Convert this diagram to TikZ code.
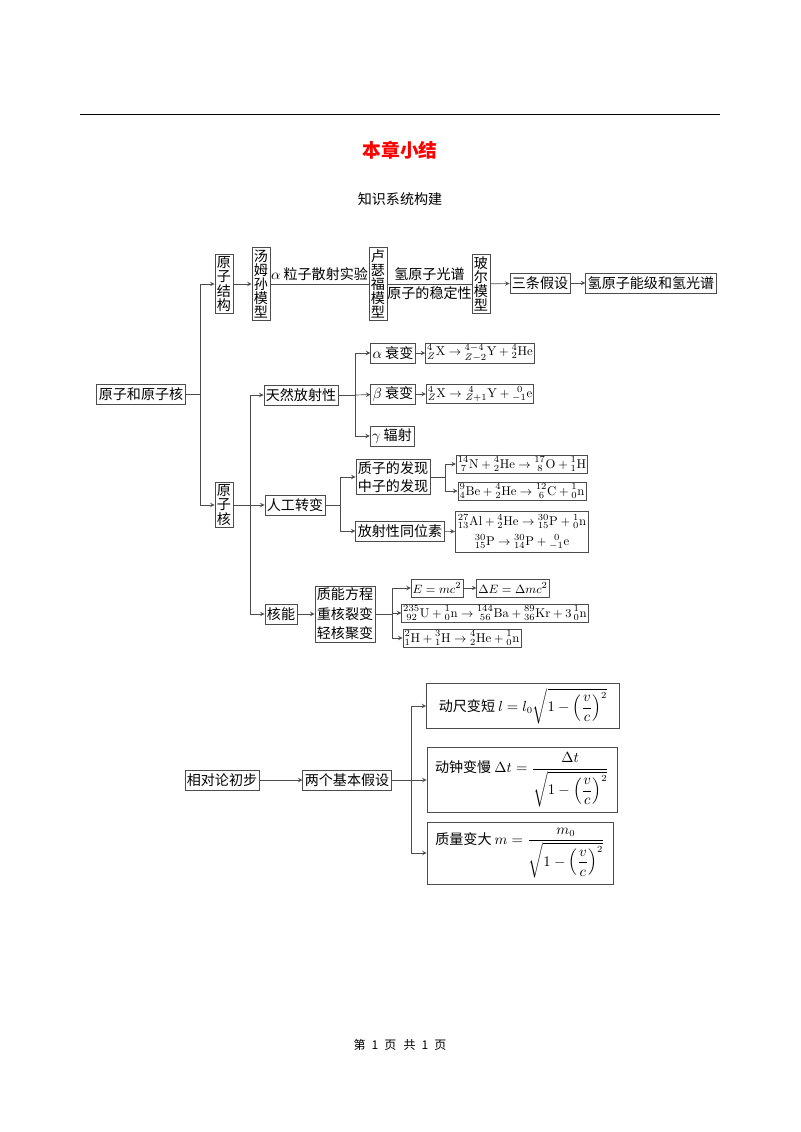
\documentclass[tikz,border=0pt]{standalone}
\usepackage{amsmath}
\usepackage{fontspec}
\usepackage{tikz}
\usetikzlibrary{arrows, positioning, calc}
\newfontfamily\zh{Noto Sans CJK SC}
\tikzstyle{box} = [rectangle, draw=black!70, inner sep=1.5pt, minimum height=5.2mm, text centered, font=\zh\fontsize{10.5}{11}\selectfont]
\tikzstyle{vbox} = [box, align=center, font=\zh\fontsize{10.5}{10.6}\selectfont]
\tikzstyle{mbox} = [box, align=center, font=\zh\fontsize{10.5}{14.5}\selectfont]
\tikzstyle{fbox} = [box, inner sep=1.2pt, minimum height=4.8mm, font=\zh\fontsize{9.5}{11}\selectfont]
\tikzstyle{rbox} = [box, inner sep=3pt, font=\zh\fontsize{10.5}{12}\selectfont]
\tikzstyle{lbl} = [font=\zh\fontsize{10.5}{12}\selectfont, inner sep=2pt]
\tikzstyle{arrow} = [->,>=stealth, draw=black!70]
\tikzstyle{line} = [draw=black!70]

\begin{document}
\begin{tikzpicture}[x=0.2625mm, y=-0.2625mm, line width=0.5pt]
\useasboundingbox (0,0) rectangle (800,1132);

% page head
\draw[line width=0.7pt] (80,114) -- (720,114);
\node (title) at (400,150) [font=\zh\bfseries\fontsize{14}{16}\selectfont, text=red] {本章小结};
\node (sub) at (400,199) [lbl] {知识系统构建};

% atom
\node (yzhyzh) [box] at (141,394) {原子和原子核};
\node (yzjg) [vbox] at (224,284) {原\\子\\结\\构};
\node (tms) [vbox] at (261,284) {汤\\姆\\孙\\模\\型};
\node (lsf) [vbox] at (378,284) {卢\\瑟\\福\\模\\型};
\node (be) [vbox] at (481,284) {玻\\尔\\模\\型};
\node (sjs) [box] at (540,283) {三条假设};
\node (qnj) [box] at (651,283) {氢原子能级和氢光谱};

\coordinate (t1) at (200,394);
\draw [line] (yzhyzh) -- (t1);
\draw [arrow] (t1) |- (yzjg);
\draw [arrow] (yzjg) -- (tms);
\draw [line] (tms) -- node[lbl, above] {$\alpha$ 粒子散射实验} (lsf);
\draw [line] (lsf) -- node[lbl, above] {氢原子光谱} node[lbl, below] {原子的稳定性} (be);
\draw [arrow] (be) -- (sjs);
\draw [arrow] (sjs) -- (qnj);

% nucleus
\node (yzh) [vbox] at (224,505) {原\\子\\核};
\draw [arrow] (t1) |- (yzh);

\node (trfs) [box] at (301,395) {天然放射性};
\node (alpha) [box] at (393,353) {$\alpha$ 衰变};
\node (afm) [fbox] at (480,353) {${}^{4}_{Z}\mathrm{X} \to {}^{4-4}_{Z-2}\mathrm{Y} + {}^{4}_{2}\mathrm{He}$};
\node (beta) [box] at (393,394) {$\beta$ 衰变};
\node (bfm) [fbox] at (480,394) {${}^{4}_{Z}\mathrm{X} \to {}^{\;4}_{Z+1}\mathrm{Y} + {}^{\;\,0}_{-1}\mathrm{e}$};
\node (gamma) [box] at (392,436) {$\gamma$ 辐射};

\node (rgzb) [box] at (295,505) {人工转变};
\node (fx) [box, align=center, font=\zh\fontsize{10.5}{13}\selectfont] at (393,477) {质子的发现\\中子的发现};
\node (nfm) [fbox, minimum width=32.8mm] at (522,464) {${}^{14}_{\;7}\mathrm{N} + {}^{4}_{2}\mathrm{He} \to {}^{17}_{\;8}\mathrm{O} + {}^{1}_{1}\mathrm{H}$};
\node (befm) [fbox, minimum width=32.8mm] at (522,491) {${}^{9}_{4}\mathrm{Be} + {}^{4}_{2}\mathrm{He} \to {}^{12}_{\;6}\mathrm{C} + {}^{1}_{0}\mathrm{n}$};
\node (fsx) [box] at (400,531) {放射性同位素};
\node (alfm) [fbox, align=center, minimum width=32.8mm, inner sep=2pt, font=\zh\fontsize{9.5}{15}\selectfont] at (522,532) {${}^{27}_{13}\mathrm{Al} + {}^{4}_{2}\mathrm{He} \to {}^{30}_{15}\mathrm{P} + {}^{1}_{0}\mathrm{n}$\\${}^{30}_{15}\mathrm{P} \to {}^{30}_{14}\mathrm{P} + {}^{\;\,0}_{-1}\mathrm{e}$};

\node (hn) [box] at (281,614) {核能};
\node (zn) [mbox] at (345,614) {质能方程\\重核裂变\\轻核聚变};
\node (emc) [fbox] at (437,588) {$E = mc^2$};
\node (dem) [fbox] at (513,588) {$\Delta E = \Delta mc^2$};
\node (ufm) [fbox] at (495,613) {${}^{235}_{\;92}\mathrm{U} + {}^{1}_{0}\mathrm{n} \to {}^{144}_{\;56}\mathrm{Ba} + {}^{89}_{36}\mathrm{Kr} + 3\,{}^{1}_{0}\mathrm{n}$};
\node (hfm) [fbox] at (462,638) {${}^{2}_{1}\mathrm{H} + {}^{3}_{1}\mathrm{H} \to {}^{4}_{2}\mathrm{He} + {}^{1}_{0}\mathrm{n}$};

\coordinate (t2) at (250,505);
\draw [line] (yzh) -- (t2);
\draw [arrow] (t2) |- (trfs);
\draw [arrow] (t2) -- (rgzb);
\draw [arrow] (t2) |- (hn);

\coordinate (t3) at (355,395);
\draw [line] (trfs) -- (t3);
\draw [arrow] (t3) |- (alpha);
\draw [arrow] (t3) -- (beta);
\draw [arrow] (t3) |- (gamma);
\draw [arrow] (alpha) -- (afm);
\draw [arrow] (beta) -- (bfm);

\coordinate (t4) at (340,505);
\draw [line] (rgzb) -- (t4);
\draw [arrow] (t4) |- (fx);
\draw [arrow] (t4) |- (fsx);
\coordinate (t5) at (445,477);
\draw [line] (fx) -- (t5);
\draw [arrow] (t5) |- (nfm);
\draw [arrow] (t5) |- (befm);
\draw [arrow] (fsx) -- (alfm);

\draw [arrow] (hn) -- (zn);
\coordinate (t6) at (392,614);
\draw [line] (zn) -- (t6);
\draw [arrow] (t6) |- (emc);
\draw [arrow] (t6) |- (ufm);
\draw [arrow] (t6) |- (hfm);
\draw [arrow] (emc) -- (dem);

% relativity
\node (xdl) [box] at (222,780) {相对论初步};
\node (lgjb) [box] at (347,780) {两个基本假设};
\node (cd) [rbox, minimum width=50.7mm, minimum height=11.8mm] at (523,706) {动尺变短 $l = l_0\sqrt{1-\left(\dfrac{v}{c}\right)^{2}}$};
\node (zm) [rbox, minimum width=49.9mm, minimum height=17.1mm] at (522,780) {动钟变慢 $\Delta t = \dfrac{\Delta t}{\sqrt{1-\left(\dfrac{v}{c}\right)^{2}}}$};
\node (zl) [rbox, minimum width=48.8mm, minimum height=16.3mm] at (520,853) {质量变大 $m = \dfrac{m_0}{\sqrt{1-\left(\dfrac{v}{c}\right)^{2}}}$};

\draw [arrow] (xdl) -- (lgjb);
\coordinate (t7) at (411,780);
\draw [line] (lgjb) -- (t7);
\draw [arrow] (t7) |- (cd);
\draw [arrow] (t7) -- (zm);
\draw [arrow] (t7) |- (zl);

% page foot
\node (foot) at (400,1045) [font=\zh\fontsize{9}{10}\selectfont] {第\hspace{0.5em}1\hspace{0.5em}页\hspace{0.6em}共\hspace{0.5em}1\hspace{0.5em}页};

\end{tikzpicture}
\end{document}
